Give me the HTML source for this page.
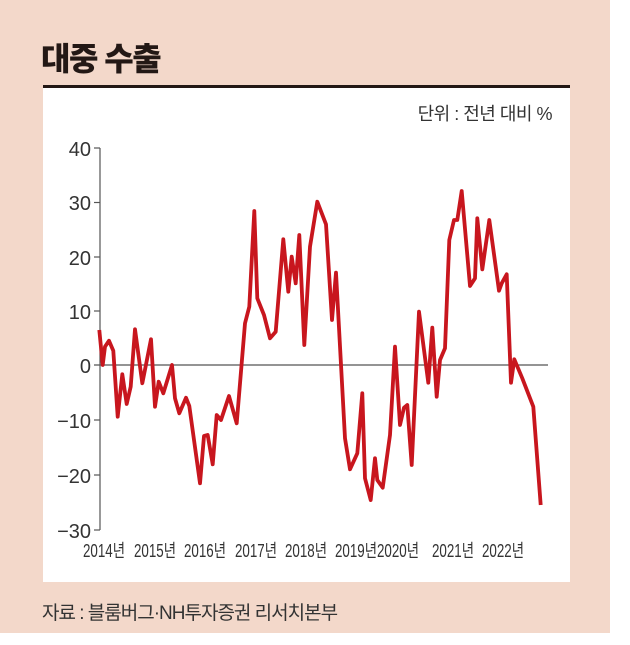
<!DOCTYPE html>
<html><head><meta charset="utf-8"><style>
body{margin:0;width:630px;height:645px;background:#fff;overflow:hidden;font-family:"Liberation Sans","Noto Sans CJK KR",sans-serif;}
.bg{position:absolute;left:0;top:0;width:610px;height:633px;background:#f3d8ca;}
.title{position:absolute;left:41px;top:34px;font-size:32px;font-weight:900;color:#231815;letter-spacing:-1.5px;}
.panel{position:absolute;left:43px;top:85px;width:527px;height:497px;background:#fff;border-top:3px solid #231815;box-sizing:border-box;}
.foot{position:absolute;left:42px;top:598px;font-size:19px;color:#333;letter-spacing:-1px;}
</style></head><body>
<div class="bg"></div>
<div class="title">대중 수출</div>
<div class="panel"></div>
<div class="foot">자료 : 블룸버그·NH투자증권 리서치본부</div>
<svg width="630" height="645" style="position:absolute;left:0;top:0" font-family="Liberation Sans, Noto Sans CJK KR, sans-serif">
<text x="552" y="120" font-size="18" text-anchor="end" fill="#333" letter-spacing="-0.5">단위 : 전년 대비 %</text>
<line x1="100" y1="148" x2="100" y2="530" stroke="#555" stroke-width="1.2"/>
<g stroke="#555" stroke-width="1.2">
<line x1="94" y1="148" x2="100" y2="148"/><line x1="94" y1="202.5" x2="100" y2="202.5"/><line x1="94" y1="257" x2="100" y2="257"/><line x1="94" y1="311" x2="100" y2="311"/><line x1="94" y1="420" x2="100" y2="420"/><line x1="94" y1="475" x2="100" y2="475"/><line x1="94" y1="530" x2="100" y2="530"/>
<line x1="94" y1="365" x2="548" y2="365"/>
</g>
<g font-size="20" fill="#333" text-anchor="end">
<text x="91" y="156">40</text><text x="91" y="210">30</text><text x="91" y="265">20</text><text x="91" y="319">10</text><text x="91" y="373">0</text><text x="91" y="428">−10</text><text x="91" y="483">−20</text><text x="91" y="538">−30</text>
</g>
<g font-size="18" fill="#333">
<text x="83" y="557" textLength="42" lengthAdjust="spacingAndGlyphs">2014년</text>
<text x="134" y="557" textLength="42" lengthAdjust="spacingAndGlyphs">2015년</text>
<text x="184" y="557" textLength="42" lengthAdjust="spacingAndGlyphs">2016년</text>
<text x="235" y="557" textLength="42" lengthAdjust="spacingAndGlyphs">2017년</text>
<text x="285" y="557" textLength="42" lengthAdjust="spacingAndGlyphs">2018년</text>
<text x="335" y="557" textLength="42" lengthAdjust="spacingAndGlyphs">2019년</text>
<text x="377" y="557" textLength="42" lengthAdjust="spacingAndGlyphs">2020년</text>
<text x="432" y="557" textLength="42" lengthAdjust="spacingAndGlyphs">2021년</text>
<text x="482" y="557" textLength="42" lengthAdjust="spacingAndGlyphs">2022년</text>
</g>
<polyline fill="none" stroke="#c8161e" stroke-width="3.8" stroke-linejoin="round" points="99.3,330 102.7,365 105,346.7 109,340.7 113.3,350.7 117.7,416.7 122.3,374.3 126.7,404 130.7,386.7 135,329.3 142.3,383.3 151,339.3 155,406.7 158.7,381.7 163.3,393.3 172,365 175,398.3 179.3,413.3 186,397.7 189.3,406 200,483.3 204,436 207.7,435 212.7,464.3 216.7,415 221,420 229,396 236.7,423.3 245,323.3 249.3,306.7 254.3,211 257.3,298.3 264,315 270,338.3 275.7,331.7 283.3,239.3 288.3,291.7 291.7,256.7 295.7,283.3 299.3,235 304.3,345 310,246.7 317.3,201.7 326,224.3 332,320 336,272.7 345,438.3 350,469.3 357.3,453.3 362.3,393.3 365,478.3 370.7,500 375,458.3 377.3,480 382.7,487.7 390,435 395,346.7 400,425 404,407.7 407.3,405 411.7,465 419,311.7 428.3,382.7 432.3,327.7 436.7,396.7 440,360 445,348.3 449.3,240 454,220 457.3,220 461.7,191 470,286 475,278.3 477.3,218.3 482.3,269.3 489.3,220 499,290.7 501.7,283.3 506.7,274.3 511,382.7 514.3,359.3 522.3,378.3 533.3,406.7 540.7,505"/>
</svg>
</body></html>
